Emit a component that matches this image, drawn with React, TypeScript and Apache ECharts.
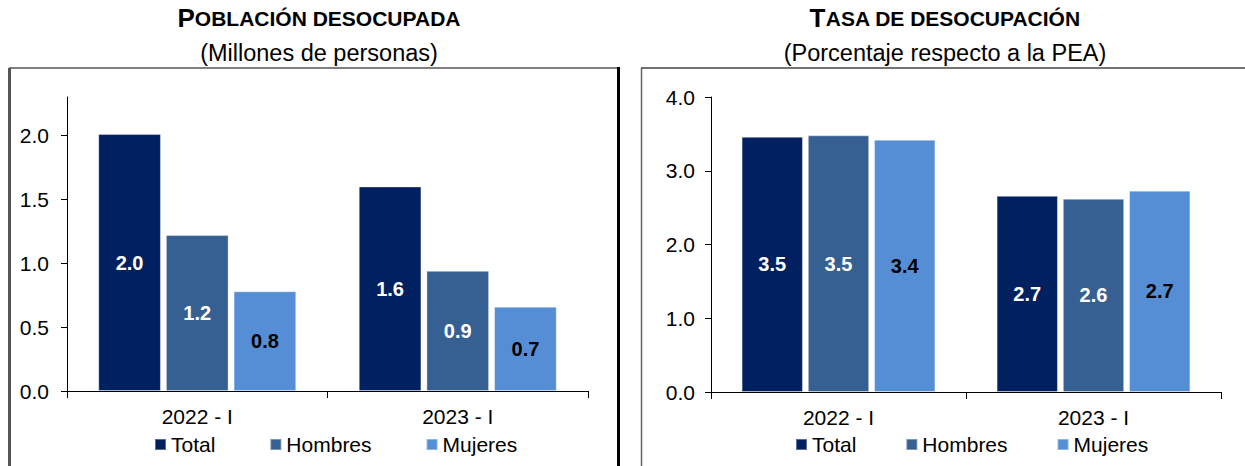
import React, { useEffect, useRef } from "react";
import * as echarts from "echarts";

const categories = ["2022 - I", "2023 - I"];
const seriesNames = ["Total", "Hombres", "Mujeres"];
const colors = ["#002060", "#376092", "#558ED5"];
const labelColors = ["#FFFFFF", "#FFFFFF", "#000000"];

// Población desocupada (millones de personas)
const poblacionTotal = [2.01, 1.6];
const poblacionHombres = [1.22, 0.94];
const poblacionMujeres = [0.78, 0.66];

// Tasa de desocupación (% PEA)
const tasaTotal = [3.46, 2.66];
const tasaHombres = [3.48, 2.62];
const tasaMujeres = [3.42, 2.73];

const leftTicks = [0, 0.5, 1, 1.5, 2];
const rightTicks = [0, 1, 2, 3, 4];

const FONT = "'Liberation Sans', Arial, sans-serif";

export default function App() {
  const ref = useRef<HTMLDivElement>(null);

  useEffect(() => {
    if (!ref.current) return;
    const chart = echarts.init(ref.current, null, { renderer: "svg" });

    const leftData = [poblacionTotal, poblacionHombres, poblacionMujeres];
    const rightData = [tasaTotal, tasaHombres, tasaMujeres];

    const mkSeries = (data: number[][], idx: number) =>
      data.map((vals, i) => ({
        name: seriesNames[i],
        type: "bar",
        xAxisIndex: idx,
        yAxisIndex: idx,
        data: vals,
        barGap: "8%",
        barCategoryGap: "24%",
        itemStyle: { color: colors[i], borderColor: "rgba(255,255,255,0.35)", borderWidth: 1 },
        label: {
          show: true,
          position: "inside",
          formatter: (p: any) => Number(p.value).toFixed(1),
          color: labelColors[i],
          fontSize: 20,
          fontWeight: "bold",
          fontFamily: FONT,
        },
      }));

    const xAxisBase = (gridIndex: number) => ({
      type: "category",
      gridIndex,
      data: categories,
      axisLine: { show: true, lineStyle: { color: "#000", width: 1 } },
      axisTick: { show: true, length: 7, interval: 0, lineStyle: { color: "#000" } },
      axisLabel: { color: "#000", fontSize: 21, fontFamily: FONT, margin: 15 },
    });

    const yAxisBase = (gridIndex: number, max: number, interval: number, ticks: number[], margin: number) => ({
      type: "value",
      gridIndex,
      min: 0,
      max,
      interval,
      splitLine: { show: false },
      axisLine: { show: true, lineStyle: { color: "#000", width: 1 } },
      axisTick: { show: true, length: 6, lineStyle: { color: "#000" }, customValues: ticks },
      axisLabel: {
        color: "#000",
        fontSize: 21,
        fontFamily: FONT,
        margin,
        customValues: ticks,
        formatter: (v: number) => v.toFixed(1),
      },
    });

    const legendBase = (left: number, gap: number) => ({
      left,
      top: 434,
      padding: 0,
      icon: "rect",
      itemWidth: 11,
      itemHeight: 11,
      itemGap: gap,
      data: seriesNames,
      selectedMode: false,
      textStyle: { color: "#000", fontSize: 21, fontFamily: FONT },
    });

    const titleText = (cx: number, first: string, rest: string) => ({
      type: "text",
      x: cx,
      y: 18,
      style: {
        text: `{a|${first}}{b|${rest}}`,
        align: "center",
        verticalAlign: "middle",
        rich: {
          a: { fontSize: 26, fontWeight: "bold", fontFamily: FONT, fill: "#000" },
          b: { fontSize: 21, fontWeight: "bold", fontFamily: FONT, fill: "#000" },
        },
      },
    });

    const subText = (cx: number, text: string) => ({
      type: "text",
      x: cx,
      y: 53,
      style: {
        text,
        align: "center",
        verticalAlign: "middle",
        fontSize: 23.5,
        fontFamily: FONT,
        fill: "#000",
      },
    });

    chart.setOption({
      animation: false,
      backgroundColor: "#fff",
      grid: [
        { left: 67, right: 657, top: 97, bottom: 75, containLabel: false },
        { left: 711, right: 24, top: 97, bottom: 74, containLabel: false },
      ],
      xAxis: [xAxisBase(0), xAxisBase(1)],
      yAxis: [
        yAxisBase(0, 2.3, 0.5, leftTicks, 18),
        yAxisBase(1, 4, 1, rightTicks, 16),
      ],
      legend: [legendBase(154, 54), legendBase(795, 49)],
      series: [...mkSeries(leftData, 0), ...mkSeries(rightData, 1)],
      graphic: [
        titleText(319, "P", "OBLACIÓN DESOCUPADA"),
        subText(319, "(Millones de personas)"),
        titleText(945, "T", "ASA DE DESOCUPACIÓN"),
        subText(945, "(Porcentaje respecto a la PEA)"),
        // left frame
        { type: "line", shape: { x1: 9, y1: 68, x2: 619, y2: 68 }, style: { stroke: "#555", lineWidth: 1.5 } },
        { type: "line", shape: { x1: 9.5, y1: 68, x2: 9.5, y2: 470 }, style: { stroke: "#555", lineWidth: 3 } },
        { type: "line", shape: { x1: 618.5, y1: 67, x2: 618.5, y2: 470 }, style: { stroke: "#000", lineWidth: 3 } },
        // right frame
        { type: "line", shape: { x1: 641.5, y1: 68, x2: 641.5, y2: 470 }, style: { stroke: "#666", lineWidth: 1.5 } },
        { type: "line", shape: { x1: 641, y1: 68, x2: 1250, y2: 68 }, style: { stroke: "#444", lineWidth: 1.5 } },
      ],
    });

    return () => chart.dispose();
  }, []);

  return (
    <div
      ref={ref}
      style={{ position: "fixed", left: 0, top: 0, width: 1245, height: 466, background: "#fff" }}
    />
  );
}
